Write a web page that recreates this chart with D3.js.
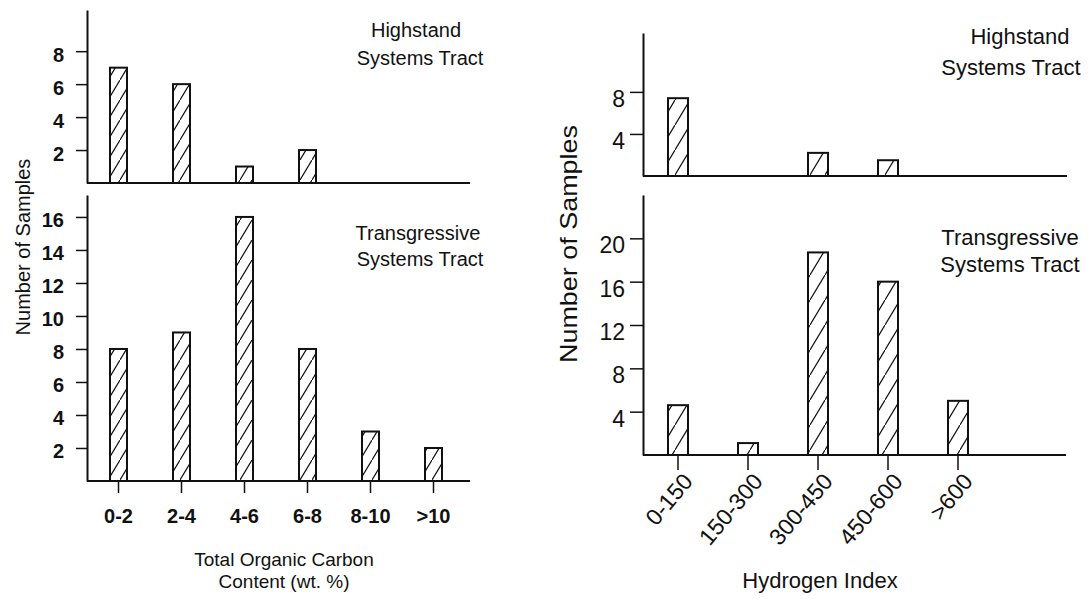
<!DOCTYPE html>
<html>
<head>
<meta charset="utf-8">
<script src="https://cdn.jsdelivr.net/npm/d3@7/dist/d3.min.js"></script>
<style>
  body { margin: 0; background: #fff; }
  text { font-family: "Liberation Sans", Arial, Helvetica, sans-serif; fill: #111; }
</style>
</head>
<body>
<div id="chart"></div>
<script>
// values
const tocBins = ["0-2", "2-4", "4-6", "6-8", "8-10", ">10"];
const tocHighstand = [7, 6, 1, 2, 0, 0];
const tocTransgressive = [8, 9, 16, 8, 3, 2];
const tocHighTicks = [2, 4, 6, 8];
const tocTransTicks = [2, 4, 6, 8, 10, 12, 14, 16];

const hiBins = ["0-150", "150-300", "300-450", "450-600", ">600"];
const hiHighstand = [7.4, 0, 2.2, 1.5, 0];
const hiTransgressive = [4.6, 1.1, 18.7, 16, 5];
const hiHighTicks = [4, 8];
const hiTransTicks = [4, 8, 12, 16, 20];

const W = 1089, H = 599;

const svg = d3.select('#chart')
  .append('svg')
  .attr('width', W)
  .attr('height', H);

const defs = svg.append('defs');

function hatch(id, w, h) {
  const p = defs.append('pattern')
    .attr('id', id)
    .attr('patternUnits', 'userSpaceOnUse')
    .attr('width', w)
    .attr('height', h);
  p.append('rect').attr('width', w).attr('height', h).attr('fill', '#fff');
  p.append('path')
    .attr('d', `M0,${h} L${w},0 M${-w},${2 * h} L0,${h} M${w},0 L${2 * w},${-h}`)
    .attr('stroke', '#111')
    .attr('stroke-width', 1.2);
}
hatch('hatchL', 12, 20);
hatch('hatchR', 15, 25);

function panel(o) {
  const g = svg.append('g');
  const x = d3.scaleBand().domain(o.bins).range(o.xr).padding(0);
  const y = d3.scaleLinear().domain([0, o.ymax]).range(o.yr);

  // y axis
  const ay = g.append('g')
    .attr('transform', `translate(${o.xr[0]},0)`)
    .call(d3.axisLeft(y).tickValues(o.ticks).tickSize(o.tick).tickSizeOuter(0).tickPadding(o.pad));
  ay.select('.domain').attr('stroke', '#111').attr('stroke-width', 2);
  ay.selectAll('.tick line').attr('stroke', '#111').attr('stroke-width', 1.5);
  ay.selectAll('.tick text')
    .attr('dy', o.dy)
    .style('font-size', o.fs + 'px')
    .style('font-weight', o.fw)
    .style('fill', '#111');

  const data = o.bins.map((b, i) => ({ b: b, v: o.values[i] })).filter(d => d.v > 0);
  g.selectAll('rect.bar')
    .data(data)
    .enter()
    .append('rect')
    .attr('class', 'bar')
    .attr('x', d => x(d.b) + x.bandwidth() / 2 - o.bw / 2)
    .attr('width', o.bw)
    .attr('y', d => y(d.v))
    .attr('height', d => y(0) - y(d.v))
    .attr('fill', `url(#${o.pattern})`)
    .attr('stroke', '#111')
    .attr('stroke-width', 2);

  // baseline
  g.append('line')
    .attr('x1', o.xr[0]).attr('x2', o.baseEnd)
    .attr('y1', y(0)).attr('y2', y(0))
    .attr('stroke', '#111').attr('stroke-width', 2);

  // label
  o.label.forEach((t, i) => {
    g.append('text')
      .attr('x', o.lx[i])
      .attr('y', o.ly[i])
      .attr('text-anchor', 'middle')
      .style('font-size', o.lfs + 'px')
      .text(t);
  });
  return { x: x, y: y, g: g };
}

// left charts - TOC
panel({
  bins: tocBins, values: tocHighstand, ticks: tocHighTicks,
  xr: [87, 465], ymax: 10.5, yr: [183, 10], baseEnd: 470,
  tick: 11, pad: 12, dy: '0.5em', fs: 20, fw: 'bold', bw: 17, pattern: 'hatchL',
  label: ['Highstand', 'Systems Tract'], lx: [416, 420], ly: [37, 65], lfs: 20
});
const lb = panel({
  bins: tocBins, values: tocTransgressive, ticks: tocTransTicks,
  xr: [87, 465], ymax: 17.33, yr: [481, 195], baseEnd: 470,
  tick: 11, pad: 12, dy: '0.5em', fs: 20, fw: 'bold', bw: 17, pattern: 'hatchL',
  label: ['Transgressive', 'Systems Tract'], lx: [418, 420], ly: [240, 266], lfs: 20
});

const axL = lb.g.append('g')
  .attr('transform', `translate(0,${lb.y(0)})`)
  .call(d3.axisBottom(lb.x).tickSize(12).tickSizeOuter(0).tickPadding(16));
axL.select('.domain').remove();
axL.selectAll('.tick line').attr('stroke', '#111').attr('stroke-width', 1.5);
axL.selectAll('.tick text').style('font-size', '20px').style('font-weight', 'bold').style('fill', '#111');

svg.append('text')
  .attr('transform', 'translate(30,247) rotate(-90)')
  .attr('text-anchor', 'middle')
  .style('font-size', '20px')
  .text('Number of Samples');

svg.append('text')
  .attr('x', 284).attr('y', 566)
  .attr('text-anchor', 'middle')
  .style('font-size', '19px')
  .text('Total Organic Carbon');
svg.append('text')
  .attr('x', 284).attr('y', 588)
  .attr('text-anchor', 'middle')
  .style('font-size', '19px')
  .text('Content (wt. %)');

// right charts - HI
panel({
  bins: hiBins, values: hiHighstand, ticks: hiHighTicks,
  xr: [643, 993], ymax: 13.6, yr: [176, 33], baseEnd: 1067,
  tick: 13, pad: 5, dy: '0.63em', fs: 23, fw: 'normal', bw: 20, pattern: 'hatchR',
  label: ['Highstand', 'Systems Tract'], lx: [1020, 1011], ly: [44, 75], lfs: 22
});
const rb = panel({
  bins: hiBins, values: hiTransgressive, ticks: hiTransTicks,
  xr: [643, 993], ymax: 24, yr: [455, 195], baseEnd: 1066,
  tick: 13, pad: 5, dy: '0.63em', fs: 23, fw: 'normal', bw: 20, pattern: 'hatchR',
  label: ['Transgressive', 'Systems Tract'], lx: [1010, 1010], ly: [245, 272], lfs: 22
});

const axR = rb.g.append('g')
  .attr('transform', `translate(0,${rb.y(0)})`)
  .call(d3.axisBottom(rb.x).tickSize(15).tickSizeOuter(0));
axR.select('.domain').remove();
axR.selectAll('.tick line').attr('stroke', '#111').attr('stroke-width', 1.5);
axR.selectAll('.tick text')
  .attr('x', 0).attr('y', 0).attr('dy', 0)
  .attr('text-anchor', 'end')
  .attr('transform', 'translate(16,27) rotate(-50)')
  .style('font-size', '23px')
  .style('fill', '#111');

svg.append('text')
  .attr('transform', 'translate(577,244) rotate(-90)')
  .attr('text-anchor', 'middle')
  .attr('textLength', 238)
  .attr('lengthAdjust', 'spacingAndGlyphs')
  .style('font-size', '24px')
  .text('Number of Samples');

svg.append('text')
  .attr('x', 820).attr('y', 588)
  .attr('text-anchor', 'middle')
  .style('font-size', '22px')
  .text('Hydrogen Index');
</script>
</body>
</html>
